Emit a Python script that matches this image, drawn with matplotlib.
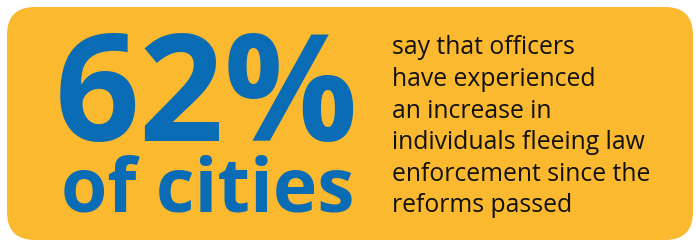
import matplotlib
matplotlib.use("Agg")
import matplotlib.pyplot as plt
from matplotlib.patches import FancyBboxPatch

# content
big_number = "62%"
big_caption = "of cities"
detail_lines = [
    "say that officers",
    "have experienced",
    "an increase in",
    "individuals fleeing law",
    "enforcement since the",
    "reforms passed",
]

YELLOW = "#FBB92F"
BLUE = "#0A6CB4"

W, H = 696, 242
fig = plt.figure(figsize=(W / 100, H / 100), dpi=100, facecolor="white")
ax = fig.add_axes([0, 0, 1, 1])
ax.set_xlim(0, W)
ax.set_ylim(H, 0)
ax.axis("off")

box = FancyBboxPatch((7, 7), 686, 233,
                     boxstyle="round,pad=0,rounding_size=28",
                     facecolor=YELLOW, edgecolor="none")
ax.add_patch(box)

ax.text(55, 141, big_number, fontfamily="Open Sans", fontweight="bold",
        fontsize=107, color=BLUE, va="baseline", ha="left")
ax.text(61, 212, big_caption, fontfamily="Open Sans", fontweight="bold",
        fontsize=54, color=BLUE, va="baseline", ha="left")

y0, step = 54.5, 31.6
for i, line in enumerate(detail_lines):
    ax.text(392, y0 + i * step, line, fontfamily="Open Sans",
            fontsize=17.8, color="#111111", va="baseline", ha="left")

fig.savefig("out.png", dpi=100, facecolor="white")
